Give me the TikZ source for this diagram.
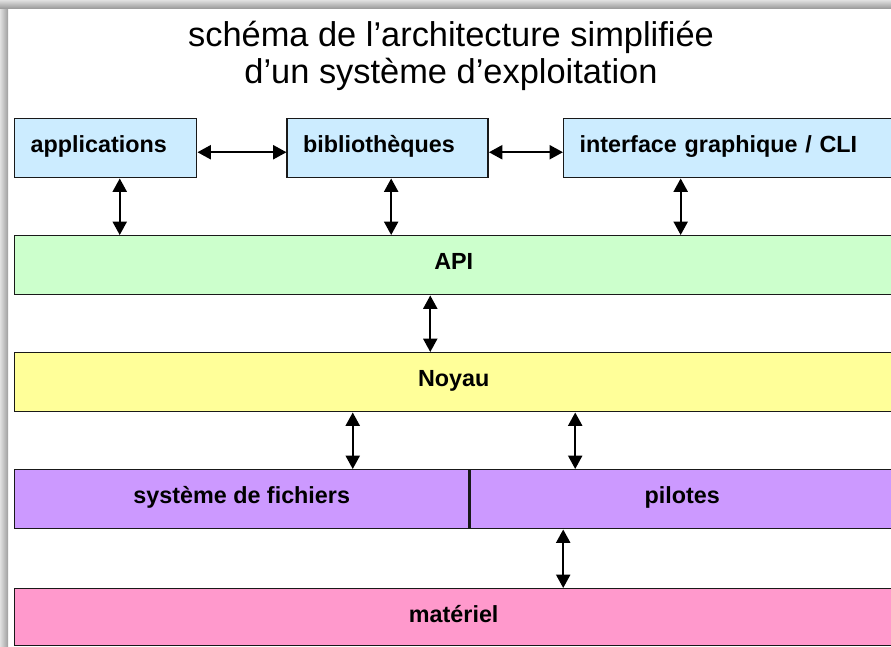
\documentclass[tikz,border=0pt]{standalone}
\usepackage{fontspec}
\setmainfont{Liberation Sans}
\usetikzlibrary{positioning,arrows.meta}

\definecolor{bleu}{HTML}{CCECFF}
\definecolor{vert}{HTML}{CCFFCC}
\definecolor{jaune}{HTML}{FFFF99}
\definecolor{violet}{HTML}{CC99FF}
\definecolor{rose}{HTML}{FF99CC}

\begin{document}
\begin{tikzpicture}[x=0.75pt,y=-0.75pt,node distance=42.4pt,
  couche/.style={rectangle, draw=black!90, line width=1.1pt, inner xsep=0pt, inner ysep=0pt,
    text height=25.5pt, text depth=18.75pt, font=\bfseries\fontsize{17.5}{21}\selectfont},
  haut/.style={couche, fill=bleu, inner xsep=12pt, align=left},
  fleche/.style={{Triangle[width=10.5pt,length=10pt]}-{Triangle[width=10.5pt,length=10pt]}, line width=1.5pt},]
\useasboundingbox (0,0) rectangle (891,646);
\clip (0,0) rectangle (891,646);
%Shadow
\shade[left color=black!12, right color=black!38] (0,0) rectangle (8,646);
\shade[top color=black!12, bottom color=black!38] (0,0) rectangle (891,8);

%Nodes
\node[align=center, inner sep=0pt, font=\fontsize{25.8}{27.5}\selectfont] (titre) at (451,56)
  {schéma de l’architecture simplifiée\\d’un système d’exploitation};
\node[haut, text width=112.5pt, anchor=north west] (apps) at (14,118) {applications};
\node[haut, text width=126.75pt, right=66.75pt of apps] (lib) {bibliothèques};
\node[haut, text width=231pt, right=55.5pt of lib] (gui) {interface graphique / CLI};
\node[couche, fill=vert, minimum width=658.5pt, below=of apps.south west, anchor=north west] (api) {API};
\node[couche, fill=jaune, minimum width=658.5pt, below=of api] (noyau) {Noyau};
\node[couche, fill=violet, minimum width=340.5pt, below=of noyau.south west, anchor=north west] (fs) {système de fichiers};
\node[couche, fill=violet, minimum width=318pt, right=0pt of fs] (pil) {pilotes};
\node[couche, fill=rose, minimum width=658.5pt, text depth=17.25pt, below=43.9pt of fs.south west, anchor=north west] (mat) {matériel};

%Lines
\draw[fleche] ([yshift=-3pt]apps.east) -- ([yshift=-3pt]lib.west);
\draw[fleche] ([yshift=-3pt]lib.east) -- ([yshift=-3pt]gui.west);
\draw[fleche] ([xshift=10.5pt]apps.south) -- ([xshift=10.5pt]apps.south |- api.north);
\draw[fleche] ([xshift=2.6pt]lib.south) -- ([xshift=2.6pt]lib.south |- api.north);
\draw[fleche] ([xshift=-39.75pt]gui.south) -- ([xshift=-39.75pt]gui.south |- api.north);
\draw[fleche] ([xshift=-17.6pt]api.south) -- ([xshift=-17.6pt]api.south |- noyau.north);
\draw[fleche] ([xshift=83.25pt]fs.north |- noyau.south) -- ([xshift=83.25pt]fs.north);
\draw[fleche] ([xshift=-80.25pt]pil.north |- noyau.south) -- ([xshift=-80.25pt]pil.north);
\draw[fleche] ([xshift=-89.25pt]pil.south) -- ([xshift=-89.25pt]pil.south |- mat.north);

\end{tikzpicture}
\end{document}
